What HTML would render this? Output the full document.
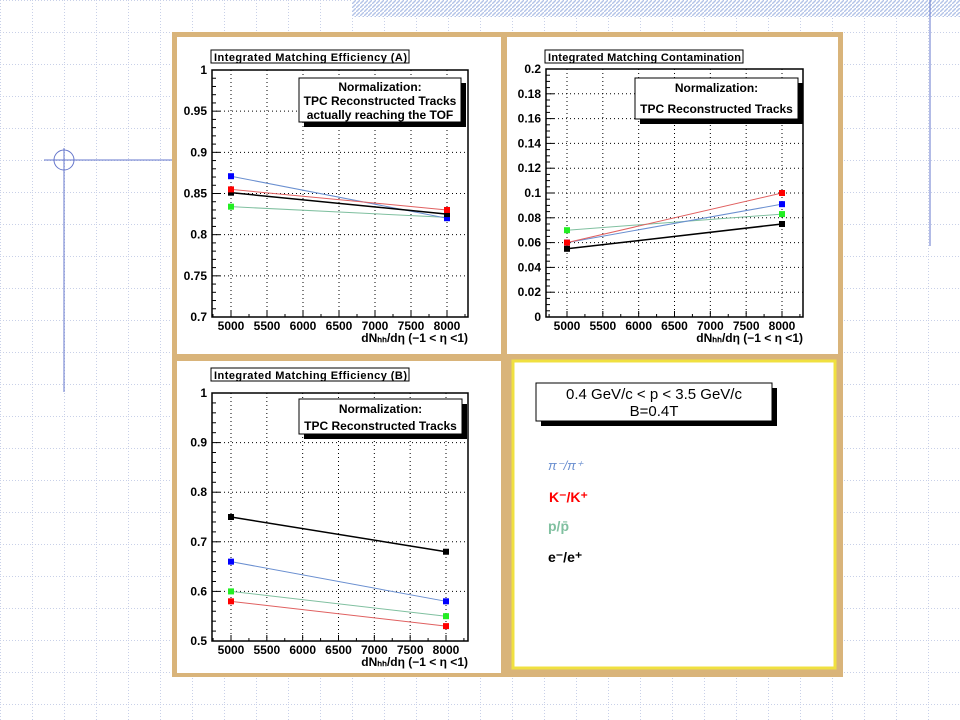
<!DOCTYPE html>
<html><head><meta charset="utf-8"><style>
html,body{margin:0;padding:0;width:960px;height:720px;overflow:hidden;background:#fff}
svg{display:block}
text{font-family:"Liberation Sans",sans-serif}
</style></head><body>
<svg id="s" width="960" height="720" viewBox="0 0 960 720" xmlns="http://www.w3.org/2000/svg">
<defs>
<pattern id="bg" width="32" height="32" patternUnits="userSpaceOnUse"><path d="M0 0.5H32M0.5 0V32" stroke="#c8d0e8" stroke-width="1" stroke-dasharray="1 2" fill="none"/></pattern>
<pattern id="hatch" width="4" height="4" patternUnits="userSpaceOnUse"><rect width="4" height="4" fill="#fff"/><path d="M0 4L4 0" stroke="#b4c4e8" stroke-width="1.4"/></pattern>
</defs>
<rect width="960" height="720" fill="url(#bg)"/>
<rect x="352" y="0" width="608" height="17" fill="url(#hatch)"/>
<line x1="930" y1="0" x2="930" y2="246" stroke="#6677cc"/>
<g stroke="#6677cc" fill="none">
<circle cx="64" cy="160" r="10"/><line x1="44" y1="160" x2="172" y2="160"/><line x1="64" y1="148" x2="64" y2="392"/></g>
<rect x="172" y="32" width="671" height="645" fill="#d9b47a"/>
<rect x="177" y="37" width="324" height="317" fill="#fff"/>
<rect x="507" y="37" width="331" height="317" fill="#fff"/>
<rect x="177" y="361" width="324" height="312" fill="#fff"/>
<rect x="513" y="361" width="322" height="307" fill="#fff" stroke="#f0e040" stroke-width="3"/>
<g id="charts"></g>
<g>
<rect x="541" y="388" width="236" height="38" fill="#000"/>
<rect x="536" y="383" width="236" height="38" fill="#fff" stroke="#000"/>
<text x="654" y="399" font-size="15" text-anchor="middle">0.4 GeV/c &lt; p &lt; 3.5 GeV/c</text>
<text x="654" y="416" font-size="15" text-anchor="middle">B=0.4T</text></g>
<text x="548" y="470" font-size="13" font-family="Liberation Serif" font-style="italic" fill="#6a8fd0">π⁻/π⁺</text>
<text x="549" y="502" font-size="14" font-weight="bold" fill="#ff0000">K⁻/K⁺</text>
<text x="548" y="531" font-size="14" font-weight="bold" font-family="Liberation Serif" fill="#80c0a0">p/p̄</text>
<text x="548" y="562" font-size="14" font-weight="bold" fill="#000">e⁻/e⁺</text>
</svg>
<script>
const xCats=[5000,8000];
const xTicks=[5000,5500,6000,6500,7000,7500,8000];
const aBlue=[0.871,0.820], aRed=[0.855,0.830], aBlack=[0.851,0.825], aGreen=[0.834,0.821];
const cBlue=[0.060,0.091], cRed=[0.060,0.100], cBlack=[0.055,0.075], cGreen=[0.070,0.083];
const bBlue=[0.66,0.58], bRed=[0.58,0.53], bBlack=[0.75,0.68], bGreen=[0.60,0.55];
const aYTicks=["0.7","0.75","0.8","0.85","0.9","0.95","1"];
const cYTicks=["0","0.02","0.04","0.06","0.08","0.1","0.12","0.14","0.16","0.18","0.2"];
const bYTicks=["0.5","0.6","0.7","0.8","0.9","1"];
const NS="http://www.w3.org/2000/svg";
const root=document.getElementById('charts');
function mk(tag,attrs,parent){const e=document.createElementNS(NS,tag);for(const k in attrs)e.setAttribute(k,attrs[k]);parent.appendChild(e);return e;}
function chart(cfg){
 const g=mk('g',{},root);
 
 
 const L=cfg.l,R=cfg.r,T=cfg.t,B=cfg.b;
 const ymin=+cfg.yt[0],ymax=+cfg.yt[cfg.yt.length-1];
 const px=500/(cfg.x8-cfg.x5)*3;
 const xs=v=>cfg.x5+(v-5000)/500*(cfg.x8-cfg.x5)/6;
 const ys=v=>B-(v-ymin)/(ymax-ymin)*(B-T);
 // grid
 xTicks.forEach(v=>{const l=mk('line',{x1:xs(v),x2:xs(v),y1:T,y2:B,stroke:'#000','stroke-dasharray':'1 3'},g);
  });
 cfg.yt.forEach(t=>{const v=+t;const l=mk('line',{x1:L,x2:R,y1:ys(v),y2:ys(v),stroke:'#000','stroke-dasharray':'1 3'},g);
  });
 const fr=mk('rect',{x:L,y:T,width:R-L,height:B-T,fill:'none',stroke:'#000','stroke-width':1.5},g);
 
 // ticks
 xTicks.forEach(v=>{mk('line',{x1:xs(v),x2:xs(v),y1:B,y2:B-6,stroke:'#000'},g);
  const t=mk('text',{x:xs(v),y:B+13,'font-size':12,'font-weight':'bold','text-anchor':'middle'},g);t.textContent=v;
  
  if(v<8000) mk('line',{x1:xs(v+250),x2:xs(v+250),y1:B,y2:B-3,stroke:'#000'},g);});
 mk('line',{x1:xs(4750),x2:xs(4750),y1:B,y2:B-3,stroke:'#000'},g);
 mk('line',{x1:xs(8250),x2:xs(8250),y1:B,y2:B-3,stroke:'#000'},g);
 const ny=cfg.yt.length-1;
 for(let i=0;i<=ny*cfg.minor;i++){const y=B-i*(B-T)/(ny*cfg.minor);mk('line',{x1:L,x2:L+(i%cfg.minor?4:8),y1:y,y2:y,stroke:'#000'},g);}
 cfg.yt.forEach(t=>{const e=mk('text',{x:L-5,y:ys(+t)+4,'font-size':12,'font-weight':'bold','text-anchor':'end'},g);e.textContent=t;
  });
 const xt=mk('text',{x:R,y:B+25,'font-size':12,'font-weight':'bold','text-anchor':'end'},g);
 xt.textContent='dN\u2095\u2095/d\u03b7 (\u22121 < \u03b7  <1)';
 
 // title
 const tb=mk('rect',{x:L-1,y:cfg.tt,width:198,height:13,fill:'#fff',stroke:'#000'},g);
 
 const tt=mk('text',{x:L+2,y:cfg.tt+11,'font-size':11,'font-weight':'bold',textLength:193},g);tt.textContent=cfg.title;
 
 // norm box
 const nb=cfg.nb;
 mk('rect',{x:nb[0]+5,y:nb[1]+5,width:nb[2],height:nb[3],fill:'#000'},g);
 const nr=mk('rect',{x:nb[0],y:nb[1],width:nb[2],height:nb[3],fill:'#fff',stroke:'#000'},g);
 
 cfg.nt.forEach((s,i)=>{const e=mk('text',{x:nb[0]+nb[2]/2,y:nb[1]+cfg.ny[i],'font-size':12,'font-weight':'bold','text-anchor':'middle'},g);e.textContent=s;
  });
 // series
 cfg.series.forEach(s=>{
  const pts=s.v.map((v,i)=>xs(xCats[i])+','+ys(v)).join(' ');
  const pl=mk('polyline',{points:pts,fill:'none',stroke:s.lc,'stroke-width':s.w||1},g);
  
  s.v.forEach((v,i)=>{const r=mk('rect',{x:xs(xCats[i])-3,y:ys(v)-3,width:6,height:6,fill:s.mc},g);
   });
 });
}
const ser=(b,r,k,gr)=>[
 {n:'green',v:gr,lc:'#80c0a0',mc:'#22ee22'},
 {n:'blue',v:b,lc:'#6a8fd0',mc:'#0000ff'},
 {n:'black',v:k,lc:'#000',mc:'#000',w:1.5},
 {n:'red',v:r,lc:'#e06060',mc:'#ff0000'}];
chart({name:'chart-efficiency-a',l:212,r:468,t:70,b:317,x5:231,x8:447,yt:aYTicks,minor:5,tt:50,title:'Integrated Matching Efficiency (A)',
 nb:[299,78,162,44],nt:['Normalization:','TPC Reconstructed Tracks','actually reaching the TOF'],ny:[13,27,41],series:ser(aBlue,aRed,aBlack,aGreen)});
chart({name:'chart-contamination',l:546,r:803,t:69,b:317,x5:567,x8:782,yt:cYTicks,minor:4,tt:50,title:'Integrated Matching Contamination',
 nb:[635,78,163,41],nt:['Normalization:','TPC Reconstructed Tracks'],ny:[14,35],series:ser(cBlue,cRed,cBlack,cGreen)});
chart({name:'chart-efficiency-b',l:212,r:468,t:393,b:641,x5:231,x8:446,yt:bYTicks,minor:5,tt:368,title:'Integrated Matching Efficiency (B)',
 nb:[299,399,163,35],nt:['Normalization:','TPC Reconstructed Tracks'],ny:[14,31],series:ser(bBlue,bRed,bBlack,bGreen)});
</script>
</body></html>
